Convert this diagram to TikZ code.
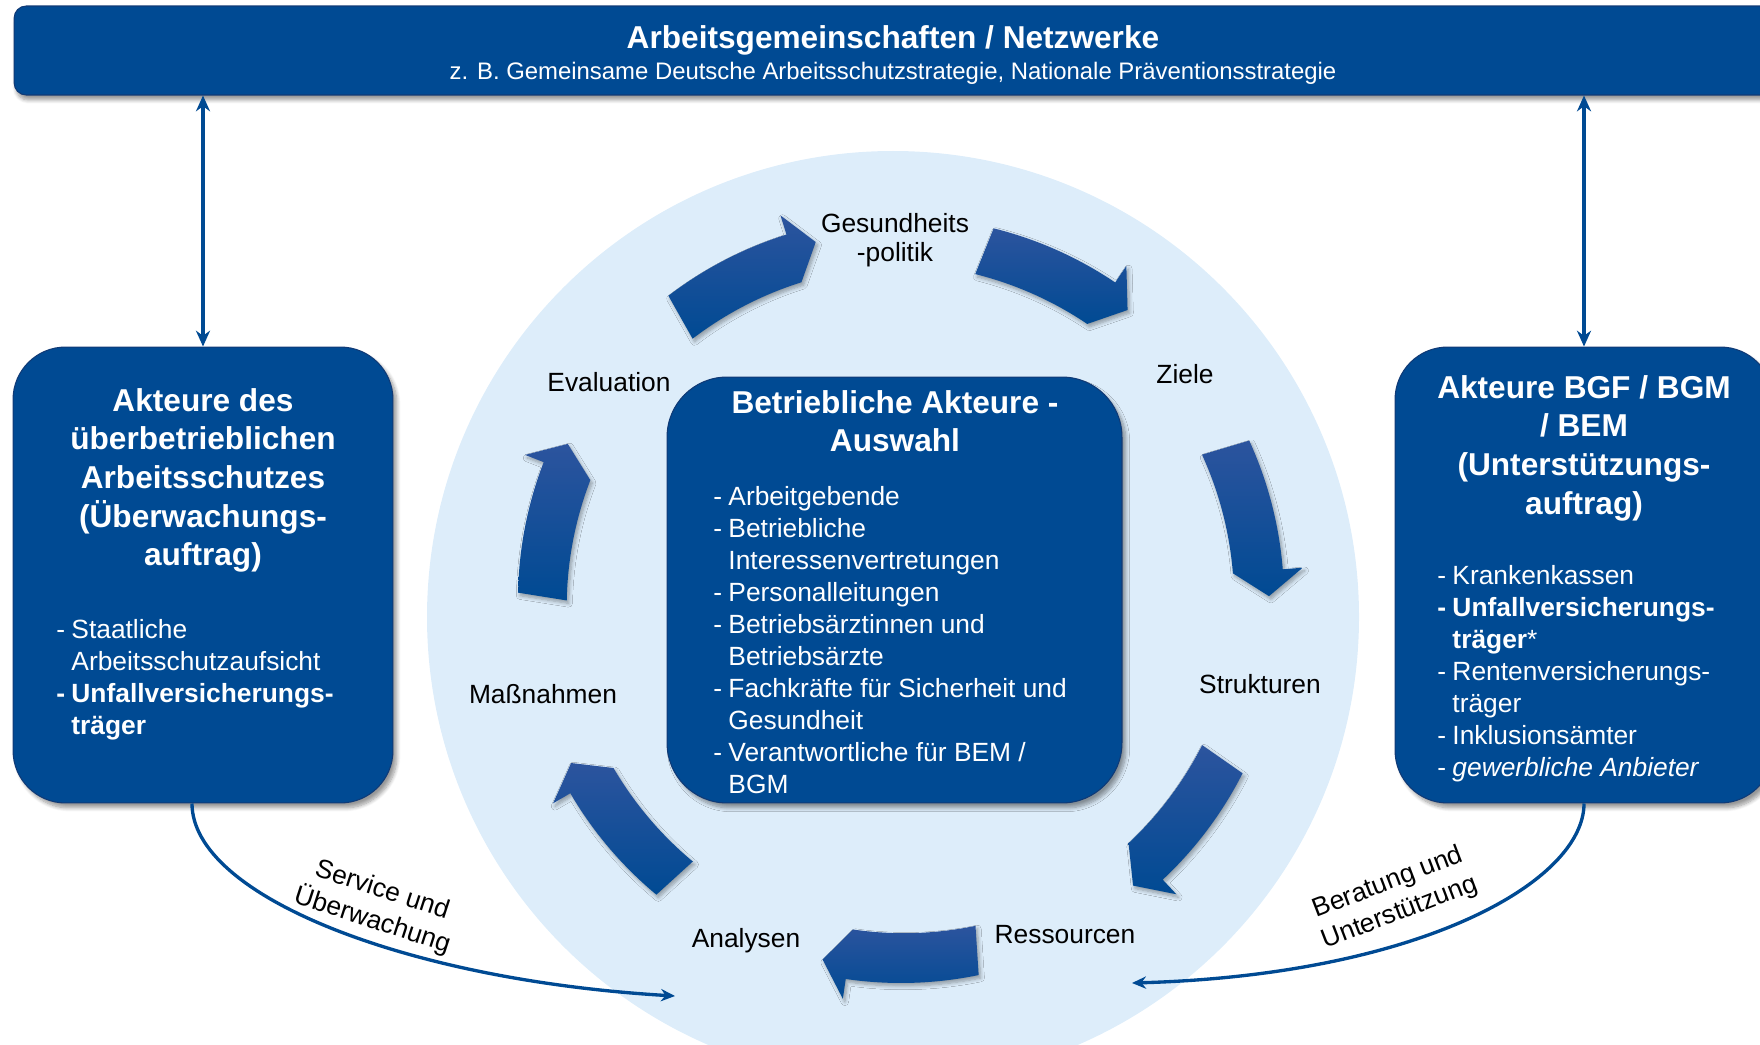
\documentclass[tikz,border=0pt]{standalone}
\usepackage{fontspec}
\setmainfont{Liberation Sans}
\usetikzlibrary{arrows.meta}
\usetikzlibrary{shadows,shadows.blur}
\usetikzlibrary{calc}

\definecolor{bmblue}{RGB}{0,74,147}
\definecolor{bmdark}{RGB}{16,58,118}
\definecolor{ringblue}{RGB}{221,237,250}
\definecolor{arrowlight}{RGB}{44,84,158}

\tikzset{
  banner/.style={rectangle, fill=bmblue, draw=bmdark, line width=0.6pt, rounded corners=0.24cm,
    minimum width=35.16cm, minimum height=1.78cm, inner sep=0pt,
    blur shadow={shadow xshift=0.04cm, shadow yshift=-0.1cm, shadow opacity=40, shadow blur steps=6}},
  bannertitle/.style={text=white, inner sep=0pt, font=\fontsize{18}{22}\selectfont\bfseries},
  bannersub/.style={text=white, inner sep=0pt, font=\fontsize{13.6}{16}\selectfont},
  box/.style={rectangle, fill=bmblue, draw=bmdark, line width=0.6pt, rounded corners=1.05cm, inner sep=0pt,
    blur shadow={shadow xshift=0.08cm, shadow yshift=-0.1cm, shadow opacity=40, shadow blur steps=8}},
  boxtitle/.style={text=white, align=center, inner sep=0pt, anchor=north, font=\fontsize{18}{22}\selectfont\bfseries},
  boxlist/.style={text=white, inner sep=0pt, anchor=north west, font=\fontsize{15}{18.2}\selectfont},
  steplabel/.style={inner sep=0pt, align=center, font=\fontsize{15}{16.6}\selectfont},
  cyclearrow/.style={top color=arrowlight, bottom color=bmblue,
    blur shadow={shadow xshift=0.04cm, shadow yshift=-0.06cm, shadow opacity=35, shadow blur steps=6}},
  link/.style={draw=bmblue, line width=1.9pt, -{Stealth[length=8pt,width=7pt]}},
  dbllink/.style={draw=bmblue, line width=2.3pt, {Stealth[length=9pt,width=8pt]}-{Stealth[length=9pt,width=8pt]}},
  linklabel/.style={inner sep=0pt, align=center, font=\fontsize{15}{18.2}\selectfont},
}

\begin{document}
\begin{tikzpicture}[x=0.02cm, y=-0.02cm]

    \useasboundingbox (0,0) rectangle (1760,1044);
    \clip (0,0) rectangle (1760,1044);

    % heller Kreis hinter dem Zyklus
    \fill[ringblue] (893,617) circle[radius=466];

    % Kopfleiste
    \node[banner] (banner) at (893,50.5) {};
    \node[bannertitle] (bantitle) at (893,40.5) {Arbeitsgemeinschaften / Netzwerke};
    \node[bannersub] (bansub) at (893,73.5) {z. B. Gemeinsame Deutsche Arbeitsschutzstrategie, Nationale Präventionsstrategie};

    % Kaesten
    \node[box, minimum width=7.6cm, minimum height=9.12cm] (lbox) at (203,575) {};
    \node[box, minimum width=7.56cm, minimum height=9.12cm] (rbox) at (1584,575) {};
    \node[box, minimum width=9.1cm, minimum height=8.52cm, rounded corners=1.2cm] (cbox) at (894.5,590) {};

    \node[boxtitle] (ltitle) at (203,388) {Akteure des\\überbetrieblichen\\Arbeitsschutzes\\(Überwachungs-\\auftrag)};
    \node[boxtitle] (rtitle) at (1584,375) {Akteure BGF / BGM\\/ BEM\\(Unterstützungs-\\auftrag)};
    \node[boxtitle] (ctitle) at (895,390) {Betriebliche Akteure -\\Auswahl};

    \node[boxlist] (llist) at (56,616) {\begin{tabular}{@{}l@{\hspace{3.6pt}}l@{}}
      - & Staatliche\\
        & Arbeitsschutzaufsicht\\
      \textbf{-} & \textbf{Unfallversicherungs-}\\
        & \textbf{träger}
    \end{tabular}};

    \node[boxlist] (rlist) at (1437,562) {\begin{tabular}{@{}l@{\hspace{3.6pt}}l@{}}
      - & Krankenkassen\\
      \textbf{-} & \textbf{Unfallversicherungs-}\\
        & \textbf{träger}*\\
      - & Rentenversicherungs-\\
        & träger\\
      - & Inklusionsämter\\
      - & \textit{gewerbliche Anbieter}
    \end{tabular}};

    \node[boxlist] (clist) at (713,483) {\begin{tabular}{@{}l@{\hspace{3.6pt}}l@{}}
      - & Arbeitgebende\\
      - & Betriebliche\\
        & Interessenvertretungen\\
      - & Personalleitungen\\
      - & Betriebsärztinnen und\\
        & Betriebsärzte\\
      - & Fachkräfte für Sicherheit und\\
        & Gesundheit\\
      - & Verantwortliche für BEM /\\
        & BGM
    \end{tabular}};

    % Kreislauf-Pfeile
    \begin{scope}[shift={(901,600)}]
      \foreach \t in {127.4,76,24.6,-26.9,-78.3,-129.7,-181.1} {
        \pgfmathsetmacro{\ta}{0-(\t)}
        \pgfmathsetmacro{\th}{0-(\t)+20}
        \pgfmathsetmacro{\tb}{0-(\t)+24}
        \path[cyclearrow] (\ta:383) arc[start angle=\ta, end angle=\th, radius=383]
          -- (\th:403) -- (\tb:368) -- (\th:333)
          arc[start angle=\th, end angle=\ta, radius=353] -- cycle;
      }
    \end{scope}

    \node[steplabel] (politik) at (895,240) {Gesundheits\\-politik};
    \node[steplabel] (ziele) at (1185,374) {Ziele};
    \node[steplabel] (struktur) at (1260,684) {Strukturen};
    \node[steplabel] (ressource) at (1065,935) {Ressourcen};
    \node[steplabel] (analyse) at (746,941) {Analysen};
    \node[steplabel] (massnahme) at (543,694) {Maßnahmen};
    \node[steplabel] (evaluation) at (609,382) {Evaluation};

    % Verbindungen
    \draw[dbllink] (banner.south -| lbox.north) -- (lbox.north);
    \draw[dbllink] (banner.south -| rbox.north) -- (rbox.north);

    \coordinate (svend) at (675,996);
    \coordinate (buend) at (1132,983);
    \draw[link] ([xshift=-0.22cm]lbox.south) .. controls +(0,92) and +(-270,-16) .. (svend);
    \draw[link] (rbox.south) .. controls +(0,78) and +(288,-8) .. (buend);

    \node[linklabel, rotate=-18] (svlabel) at (377,906) {Service und\\Überwachung};
    \node[linklabel, rotate=21] (bulabel) at (1394,898) {Beratung und\\Unterstützung};

\end{tikzpicture}
\end{document}
